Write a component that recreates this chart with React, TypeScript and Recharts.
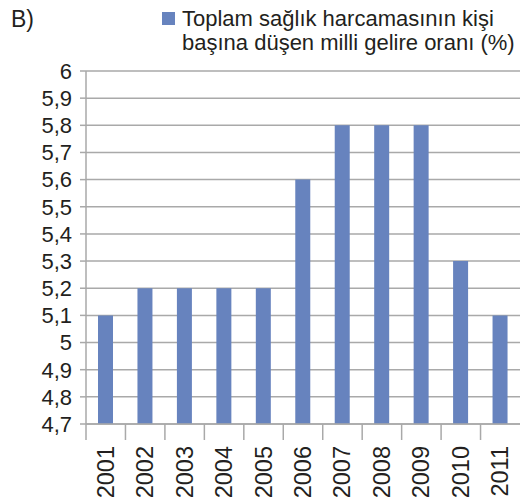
import React from 'react';
import { BarChart, Bar, XAxis, YAxis, CartesianGrid } from 'recharts';

const years = ['2001', '2002', '2003', '2004', '2005', '2006', '2007', '2008', '2009', '2010', '2011'];
const ratios = [5.1, 5.2, 5.2, 5.2, 5.2, 5.6, 5.8, 5.8, 5.8, 5.3, 5.1];
const yTicks = [4.7, 4.8, 4.9, 5.0, 5.1, 5.2, 5.3, 5.4, 5.5, 5.6, 5.7, 5.8, 5.9, 6.0];
const legendLines = ['Toplam sağlık harcamasının kişi', 'başına düşen milli gelire oranı (%)'];
const panelLabel = 'B)';

const data = years.map((y, i) => ({ year: y, value: ratios[i] }));

const W = 522;
const H = 502;
const LEFT = 86;
const RIGHT = 2;
const BW = (W - LEFT - RIGHT) / years.length;
const FONT = '"Liberation Sans", Arial, Helvetica, sans-serif';
const GRID = '#a9a9a9';
const TEXT = '#231f20';
const BAR = '#6783be';

const fmt = (v: number) => String(Number(v.toFixed(1))).replace('.', ',');

const XTick = (props: any) => {
  const { x, y, payload } = props;
  return (
    <g>
      <line x1={x - BW / 2} x2={x - BW / 2} y1={y} y2={y + 16} stroke={GRID} strokeWidth={1.5} />
      <text
        transform={`translate(${x},${y}) rotate(-90)`}
        x={-22}
        y={0}
        textAnchor="end"
        dominantBaseline="central"
        fontSize={23.5}
        fontFamily={FONT}
        fill={TEXT}
      >
        {payload.value}
      </text>
    </g>
  );
};

export default function App() {
  return (
    <div style={{ position: 'absolute', left: 0, top: 0, width: W, height: H, background: '#fff', fontFamily: FONT, color: TEXT }}>
      <div style={{ position: 'absolute', left: 11, top: 7, fontSize: 23, lineHeight: '24px' }}>{panelLabel}</div>
      <div style={{ position: 'absolute', left: 162, top: 12, width: 13, height: 13, background: BAR }} />
      <div style={{ position: 'absolute', left: 182, top: 7, fontSize: 22, lineHeight: '24px', whiteSpace: 'nowrap' }}>
        {legendLines.map((l) => (
          <div key={l}>{l}</div>
        ))}
      </div>
      <BarChart width={W} height={H} data={data} margin={{ top: 71, right: RIGHT, bottom: 0, left: 0 }}>
        <CartesianGrid horizontal vertical={false} stroke={GRID} strokeWidth={1.5} strokeDasharray="" />
        <XAxis
          dataKey="year"
          height={78}
          interval={0}
          tickSize={0}
          tickMargin={0}
          tickLine={false}
          axisLine={{ stroke: GRID, strokeWidth: 1.5 }}
          tick={<XTick />}
        />
        <YAxis
          width={LEFT}
          domain={[4.7, 6]}
          ticks={yTicks}
          interval={0}
          allowDataOverflow
          tickFormatter={fmt}
          tickSize={6}
          tickMargin={8}
          axisLine={{ stroke: GRID, strokeWidth: 1.5 }}
          tickLine={{ stroke: GRID, strokeWidth: 1.5 }}
          tick={{ fontSize: 22, fontFamily: FONT, fill: TEXT }}
        />
        <Bar dataKey="value" fill={BAR} barSize={15} isAnimationActive={false} />
      </BarChart>
    </div>
  );
}
